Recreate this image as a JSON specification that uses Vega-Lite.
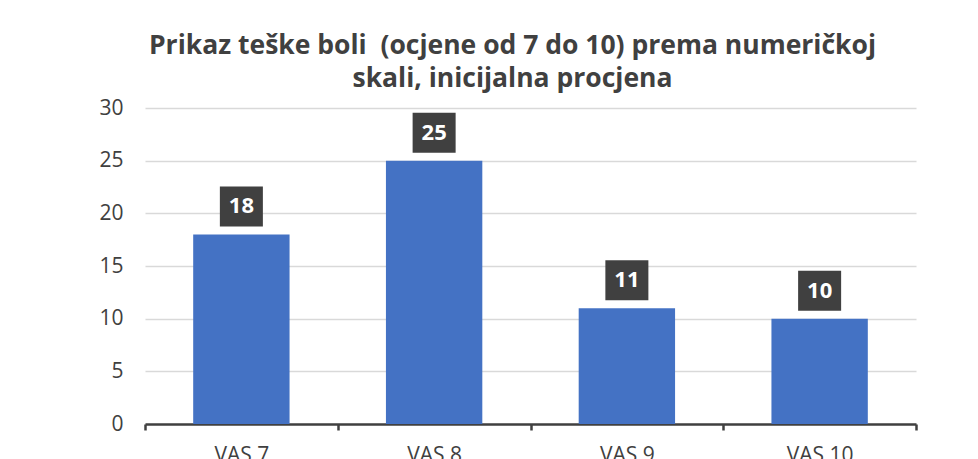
{
  "$schema": "https://vega.github.io/schema/vega-lite/v6.json",
  "autosize": "none",
  "width": 771,
  "height": 316,
  "padding": {"left": 145, "top": 108, "right": 62, "bottom": 35},
  "background": "white",
  "title": {
    "text": ["Prikaz teške boli \u00a0(ocjene od 7 do 10) prema numeričkoj", "skali, inicijalna procjena"],
    "font": "Open Sans",
    "fontSize": 26.5,
    "fontWeight": "bold",
    "color": "#404040",
    "lineHeight": 33,
    "anchor": "middle",
    "frame": "group",
    "dx": -18,
    "offset": 5
  },
  "data": {
    "values": [
      {"category": "VAS 7", "count": 18},
      {"category": "VAS 8", "count": 25},
      {"category": "VAS 9", "count": 11},
      {"category": "VAS 10", "count": 10}
    ]
  },
  "config": {
    "view": {"stroke": null},
    "font": "Open Sans"
  },
  "encoding": {
    "x": {
      "field": "category",
      "type": "nominal",
      "sort": null,
      "scale": {"paddingInner": 0, "paddingOuter": 0},
      "axis": {
        "title": null,
        "labelAngle": 0,
        "labelFont": "Open Sans",
        "labelFontSize": 21,
        "labelColor": "#404040",
        "labelPadding": 14,
        "domainColor": "#404040",
        "domainWidth": 2.5,
        "tickColor": "#404040",
        "tickWidth": 2.5,
        "tickSize": 6,
        "tickBand": "extent",
        "grid": false
      }
    },
    "y": {
      "field": "count",
      "type": "quantitative",
      "scale": {"domain": [0, 30], "nice": false},
      "axis": {
        "title": null,
        "values": [0, 5, 10, 15, 20, 25, 30],
        "labelFont": "Open Sans",
        "labelFontSize": 21,
        "labelColor": "#404040",
        "labelPadding": 22,
        "domain": false,
        "ticks": false,
        "gridColor": "#d9d9d9",
        "gridWidth": 1.5
      }
    }
  },
  "layer": [
    {"mark": {"type": "bar", "color": "#4472C4", "width": {"band": 0.5}}},
    {
      "mark": {
        "type": "point",
        "shape": "M-1.024,-0.952H1.024V0.952H-1.024Z",
        "size": 1764,
        "filled": true,
        "color": "#404040",
        "opacity": 1,
        "yOffset": -28
      }
    },
    {
      "mark": {
        "type": "text",
        "color": "white",
        "fontWeight": "bold",
        "fontSize": 22,
        "font": "Open Sans",
        "baseline": "middle",
        "yOffset": -28
      },
      "encoding": {"text": {"field": "count", "type": "quantitative"}}
    }
  ]
}
